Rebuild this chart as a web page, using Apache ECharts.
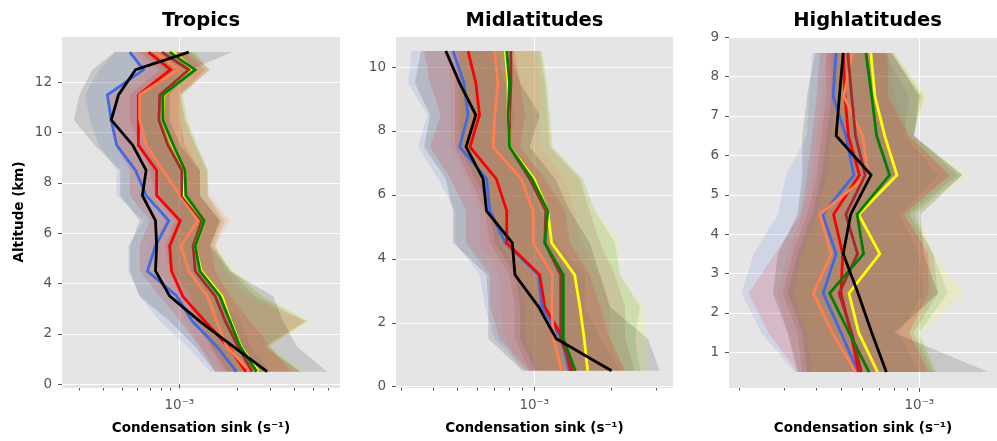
<!DOCTYPE html>
<html>
<head>
<meta charset="utf-8">
<script src="https://cdn.jsdelivr.net/npm/echarts@6/dist/echarts.min.js"></script>
<style>
  html, body { margin: 0; padding: 0; background: #ffffff; }
  #chart { width: 997px; height: 441px; }
</style>
</head>
<body>
<div id="chart"></div>
<script>
// Condensation sink profiles, values in units of 1e-4 s^-1
const UNIT = 1e-4;

// ---------- Tropics ----------
const tropAlt = [0.5, 1.5, 2.5, 3.5, 4.5, 5.5, 6.5, 7.5, 8.5, 9.5, 10.5, 11.5, 12.5, 13.2];
const tropBlue   = [19.9, 15.7, 11.7, 9.7, 6.8, 7.5, 8.8, 6.7, 5.9, 4.7, 4.4, 4.2, 6.5, 5.5];
const tropRed    = [22.3, 18.0, 13.6, 10.4, 9.1, 8.9, 10.1, 7.6, 7.6, 6.1, 6.1, 6.1, 9.0, 6.9];
const tropCoral  = [23.4, 17.7, 15.7, 14.0, 11.2, 10.2, 12.5, 10.1, 8.2, 6.7, 6.2, 6.2, 9.9, 7.5];
const tropBrown  = [24.0, 20.3, 17.4, 15.4, 12.1, 11.8, 13.1, 10.3, 10.3, 8.7, 7.8, 7.9, 11.2, 8.1];
const tropYellow = [25.9, 21.0, 18.6, 16.7, 13.0, 12.1, 13.5, 10.6, 10.7, 9.2, 8.2, 8.3, 11.9, 9.3];
const tropGreen  = [25.4, 20.8, 18.4, 16.3, 12.8, 12.1, 13.5, 10.8, 10.7, 9.3, 8.2, 8.2, 12.1, 8.9];
const tropBlack  = [28.8, 19.1, 12.8, 8.9, 7.5, 7.6, 7.5, 6.4, 6.7, 5.7, 4.4, 4.8, 5.9, 11.2];

const tropBlueLo   = [14.5, 11.0, 7.9, 6.2, 5.4, 5.4, 6.5, 4.7, 4.7, 3.8, 3.4, 3.2, 3.8, 4.6];
const tropBlueHi   = [29.9, 23.5, 20.8, 15.4, 12.1, 12.1, 13.6, 11.4, 10.1, 8.4, 7.5, 7.9, 10.1, 8.4];
const tropRedLo    = [15.4, 12.8, 10.1, 7.9, 6.2, 6.2, 7.0, 5.5, 5.5, 4.6, 4.3, 4.3, 6.2, 5.5];
const tropRedHi    = [38.0, 29.9, 23.5, 18.4, 15.4, 14.5, 16.3, 12.8, 12.8, 10.7, 10.1, 10.1, 13.6, 10.7];
const tropCoralLo  = [16.3, 12.8, 10.7, 9.5, 7.9, 7.0, 8.4, 7.0, 5.9, 4.9, 4.6, 4.6, 7.0, 5.9];
const tropCoralHi  = [42.8, 27.4, 45.5, 22.1, 17.4, 15.4, 18.4, 14.5, 13.6, 12.1, 10.7, 10.1, 14.5, 11.4];
const tropBrownLo  = [17.4, 14.5, 12.1, 10.7, 8.9, 8.4, 9.5, 7.5, 7.0, 6.2, 5.5, 5.5, 7.9, 6.2];
const tropBrownHi  = [42.8, 28.1, 45.5, 24.9, 18.4, 15.4, 17.4, 14.1, 14.1, 12.1, 10.7, 10.1, 14.5, 11.4];
const tropYellowLo = [18.4, 15.0, 12.8, 11.4, 9.3, 8.7, 9.8, 7.9, 7.7, 6.6, 6.1, 6.1, 8.4, 6.6];
const tropYellowHi = [45.5, 29.9, 48.3, 28.1, 19.6, 15.4, 17.4, 14.1, 14.1, 12.4, 11.0, 10.4, 14.1, 12.1];
const tropGreenLo  = [18.0, 14.8, 12.8, 11.4, 9.2, 8.7, 9.8, 7.9, 7.7, 6.6, 6.1, 6.1, 8.4, 6.6];
const tropGreenHi  = [42.8, 29.1, 47.2, 27.1, 18.9, 15.0, 16.7, 14.0, 14.0, 12.4, 11.0, 10.4, 14.1, 12.1];
const tropBlackLo  = [15.4, 12.1, 8.9, 6.2, 5.5, 5.5, 6.2, 4.9, 4.9, 3.6, 2.8, 3.0, 3.5, 4.6];
const tropBlackHi  = [59.3, 41.3, 34.9, 31.0, 18.4, 14.5, 16.3, 12.8, 12.8, 10.1, 8.9, 8.9, 11.4, 18.9];

// ---------- Midlatitudes ----------
const midAlt = [0.5, 1.5, 2.5, 3.5, 4.5, 5.5, 6.5, 7.5, 8.5, 9.5, 10.5];
const midBlue   = [13.7, 12.8, 10.7, 10.4, 7.7, 6.7, 6.5, 5.1, 5.5, 5.3, 4.8];
const midRed    = [13.9, 13.0, 11.0, 10.5, 7.8, 7.8, 7.1, 5.6, 6.1, 5.9, 5.5];
const midCoral  = [12.8, 11.9, 11.7, 11.8, 9.9, 9.9, 8.9, 6.9, 7.0, 7.2, 7.0];
const midBrown  = [14.2, 12.7, 12.7, 12.7, 11.0, 11.1, 9.6, 8.0, 8.0, 8.1, 8.1];
const midYellow = [16.2, 15.7, 15.1, 14.4, 11.7, 11.3, 10.0, 8.0, 7.9, 7.9, 7.7];
const midGreen  = [14.5, 13.0, 13.0, 13.0, 11.0, 11.3, 9.8, 8.0, 7.9, 8.0, 7.8];
const midBlack  = [20.1, 12.2, 10.4, 8.4, 8.2, 6.5, 6.3, 5.4, 5.9, 5.1, 4.5];

const midBlueLo   = [9.2, 7.0, 6.4, 6.1, 4.9, 4.9, 4.2, 3.5, 3.8, 3.2, 3.3];
const midBlueHi   = [21.7, 18.1, 15.8, 15.8, 12.1, 10.5, 9.6, 8.0, 8.4, 7.7, 7.0];
const midRedLo    = [9.5, 7.3, 6.7, 6.7, 5.4, 5.4, 4.7, 3.9, 4.3, 3.9, 3.7];
const midRedHi    = [22.7, 19.8, 18.1, 16.5, 13.8, 13.2, 11.0, 8.8, 9.2, 8.8, 8.4];
const midCoralLo  = [8.8, 7.7, 7.3, 7.3, 6.1, 6.1, 5.4, 4.7, 4.7, 4.7, 4.5];
const midCoralHi  = [22.7, 19.8, 19.8, 18.1, 15.1, 14.4, 13.2, 10.5, 10.5, 10.5, 10.1];
const midBrownLo  = [9.6, 8.4, 8.4, 8.0, 6.7, 6.4, 5.6, 4.9, 4.9, 4.9, 4.9];
const midBrownHi  = [24.8, 22.7, 22.7, 20.7, 18.1, 16.5, 15.1, 11.5, 11.3, 11.0, 10.5];
const midYellowLo = [10.5, 9.2, 9.2, 8.8, 7.3, 7.0, 6.1, 5.1, 5.1, 5.1, 5.1];
const midYellowHi = [27.7, 27.7, 26.7, 21.7, 21.7, 17.3, 15.5, 11.8, 11.5, 11.2, 10.7];
const midGreenLo  = [10.1, 8.8, 8.8, 8.4, 7.0, 6.7, 5.9, 5.1, 5.1, 5.1, 5.1];
const midGreenHi  = [26.0, 24.8, 26.0, 21.7, 20.7, 17.3, 15.5, 11.8, 11.5, 11.2, 10.7];
const midBlackLo  = [9.0, 6.6, 6.6, 6.5, 4.8, 4.8, 4.5, 3.7, 3.9, 3.4, 3.6];
const midBlackHi  = [31.1, 27.9, 19.8, 18.1, 16.5, 13.8, 12.1, 9.6, 10.5, 8.8, 8.0];

// ---------- Highlatitudes ----------
const highAlt = [0.5, 1.5, 2.5, 3.5, 4.5, 5.5, 6.5, 7.5, 8.6];
const highBlue   = [5.79, 4.97, 4.24, 4.76, 4.22, 5.58, 5.19, 4.63, 4.76];
const highRed    = [5.82, 5.42, 4.97, 5.05, 4.65, 5.86, 5.31, 5.15, 5.07];
const highCoral  = [5.66, 4.60, 3.89, 4.56, 4.11, 6.35, 6.02, 5.10, 5.50];
const highBrown  = [5.96, 5.47, 4.89, 5.76, 5.19, 6.17, 5.66, 5.47, 5.28];
const highYellow = [6.89, 5.82, 5.34, 7.03, 5.82, 8.19, 7.34, 6.73, 6.49];
const highGreen  = [6.39, 5.34, 4.49, 6.08, 5.74, 7.67, 6.83, 6.54, 6.21];
const highBlack  = [7.45, 6.54, 5.79, 5.07, 5.42, 6.50, 4.76, 4.90, 5.07];

const highBlueLo   = [3.28, 2.44, 2.05, 2.28, 2.83, 3.04, 3.67, 3.74, 3.84];
const highBlueHi   = [9.94, 8.36, 10.38, 9.94, 8.36, 11.82, 8.73, 9.12, 7.34];
const highRedLo    = [3.37, 2.60, 2.18, 2.76, 3.46, 3.67, 3.84, 4.01, 4.11];
const highRedHi    = [10.84, 9.12, 10.84, 10.84, 8.73, 13.11, 9.12, 7.54, 7.54];
const highCoralLo  = [3.43, 3.09, 2.83, 3.09, 3.52, 3.84, 4.01, 4.18, 4.37];
const highCoralHi  = [10.84, 9.12, 11.32, 10.84, 8.73, 13.11, 9.12, 8.00, 7.67];
const highBrownLo  = [3.52, 3.37, 2.96, 3.23, 3.67, 4.01, 4.18, 4.37, 4.37];
const highBrownHi  = [11.32, 9.52, 11.82, 11.32, 9.12, 14.05, 9.52, 9.94, 7.87];
const highYellowLo = [3.84, 3.67, 3.23, 3.52, 4.01, 4.37, 4.56, 4.76, 4.76];
const highYellowHi = [11.62, 10.11, 14.93, 11.32, 9.94, 15.32, 9.28, 10.84, 8.00];
const highGreenLo  = [3.67, 3.52, 3.09, 3.37, 3.84, 4.18, 4.37, 4.56, 4.56];
const highGreenHi  = [11.62, 9.94, 12.89, 11.32, 9.52, 14.67, 9.52, 10.38, 8.00];
const highBlackLo  = [3.37, 3.09, 2.71, 2.83, 3.37, 3.52, 3.52, 3.67, 3.94];
const highBlackHi  = [18.54, 8.00, 11.82, 10.38, 10.11, 14.67, 9.52, 10.11, 7.80];

// ---------- Axis ticks ----------
const tropYTicks = [0, 2, 4, 6, 8, 10, 12];
const midYTicks  = [0, 2, 4, 6, 8, 10];
const highYTicks = [1, 2, 3, 4, 5, 6, 7, 8, 9];
const xMajorTicks = [1e-3];
const tropXMinor = [3e-4, 4e-4, 5e-4, 6e-4, 7e-4, 8e-4, 9e-4, 2e-3, 3e-3, 4e-3, 5e-3, 6e-3];
const midXMinor  = [3e-4, 4e-4, 5e-4, 6e-4, 7e-4, 8e-4, 9e-4, 2e-3, 3e-3];
const highXMinor = [2e-4, 3e-4, 4e-4, 5e-4, 6e-4, 7e-4, 8e-4, 9e-4];

const titles = ['Tropics', 'Midlatitudes', 'Highlatitudes'];
const xAxisTitle = 'Condensation sink (s\u207B\u00B9)';
const yAxisTitle = 'Altitude (km)';
const xMajorLabel = '10\u207B\u00B3';

const COLORS = {
  blue: '#4169E1', red: '#FF0000', coral: '#FF7F50', brown: '#A52A2A',
  yellow: '#FFFF00', green: '#008000', black: '#000000'
};
const LINE_ORDER = ['blue', 'red', 'coral', 'brown', 'yellow', 'green', 'black'];
const BAND_ORDER = ['blue', 'green', 'yellow', 'brown', 'coral', 'red', 'black'];
const BAND_ALPHA = 0.13;

const panels = [
  {
    alt: tropAlt,
    line: { blue: tropBlue, red: tropRed, coral: tropCoral, brown: tropBrown, yellow: tropYellow, green: tropGreen, black: tropBlack },
    lo: { blue: tropBlueLo, red: tropRedLo, coral: tropCoralLo, brown: tropBrownLo, yellow: tropYellowLo, green: tropGreenLo, black: tropBlackLo },
    hi: { blue: tropBlueHi, red: tropRedHi, coral: tropCoralHi, brown: tropBrownHi, yellow: tropYellowHi, green: tropGreenHi, black: tropBlackHi },
    yTicks: tropYTicks, xMinor: tropXMinor,
    xMin: 2.43e-4, xMax: 6.93e-3, yMin: -0.15, yMax: 13.8,
    left: 62, width: 278
  },
  {
    alt: midAlt,
    line: { blue: midBlue, red: midRed, coral: midCoral, brown: midBrown, yellow: midYellow, green: midGreen, black: midBlack },
    lo: { blue: midBlueLo, red: midRedLo, coral: midCoralLo, brown: midBrownLo, yellow: midYellowLo, green: midGreenLo, black: midBlackLo },
    hi: { blue: midBlueHi, red: midRedHi, coral: midCoralHi, brown: midBrownHi, yellow: midYellowHi, green: midGreenHi, black: midBlackHi },
    yTicks: midYTicks, xMinor: midXMinor,
    xMin: 2.87e-4, xMax: 3.5e-3, yMin: -0.04, yMax: 10.94,
    left: 396, width: 277
  },
  {
    alt: highAlt,
    line: { blue: highBlue, red: highRed, coral: highCoral, brown: highBrown, yellow: highYellow, green: highGreen, black: highBlack },
    lo: { blue: highBlueLo, red: highRedLo, coral: highCoralLo, brown: highBrownLo, yellow: highYellowLo, green: highGreenLo, black: highBlackLo },
    hi: { blue: highBlueHi, red: highRedHi, coral: highCoralHi, brown: highBrownHi, yellow: highYellowHi, green: highGreenHi, black: highBlackHi },
    yTicks: highYTicks, xMinor: highXMinor,
    xMin: 1.83e-4, xMax: 2.0e-3, yMin: 0.095, yMax: 9.005,
    left: 729, width: 277
  }
];

const FONT = 'DejaVu Sans';
const TICK_COLOR = '#555555';
const GRID_TOP = 37;
const GRID_HEIGHT = 351;

const grids = [], xAxes = [], yAxes = [], series = [];

// Shaded range between lower and upper profiles, drawn as one polygon
function bandSeries(p, idx, key) {
  const rows = p.alt.map((a, i) => [p.lo[key][i] * UNIT, p.hi[key][i] * UNIT, a]);
  return {
    type: 'custom',
    xAxisIndex: idx * 2,
    yAxisIndex: idx,
    silent: true,
    clip: true,
    z: 1,
    data: rows,
    encode: { x: [0, 1], y: 2 },
    renderItem: function (params, api) {
      if (params.dataIndex !== 0) return null;
      const pts = [];
      for (let i = 0; i < rows.length; i++) pts.push(api.coord([rows[i][0], rows[i][2]]));
      for (let i = rows.length - 1; i >= 0; i--) pts.push(api.coord([rows[i][1], rows[i][2]]));
      return {
        type: 'polygon',
        shape: { points: pts },
        style: { fill: COLORS[key], opacity: BAND_ALPHA }
      };
    }
  };
}

panels.forEach((p, idx) => {
  grids.push({
    left: p.left, top: GRID_TOP, width: p.width, height: GRID_HEIGHT,
    show: true, backgroundColor: '#E5E5E5', borderWidth: 0, containLabel: false
  });

  // main x axis: 10^-3 tick, label, grid line and axis title
  xAxes.push({
    gridIndex: idx, type: 'log', logBase: 10, position: 'bottom',
    min: p.xMin, max: p.xMax,
    axisLine: { show: false },
    axisTick: { show: true, customValues: xMajorTicks, length: 4, lineStyle: { color: TICK_COLOR, width: 1 } },
    axisLabel: {
      show: true, customValues: xMajorTicks, formatter: () => xMajorLabel,
      color: TICK_COLOR, fontSize: 13.5, fontFamily: FONT, margin: 10
    },
    splitLine: { show: true, lineStyle: { color: '#ffffff', width: 1 } },
    minorTick: { show: false },
    name: xAxisTitle, nameLocation: 'middle', nameGap: 33,
    nameTextStyle: { fontFamily: FONT, fontWeight: 'bold', fontSize: 13.5, color: '#000000' }
  });
  // secondary x axis carrying the minor log ticks
  xAxes.push({
    gridIndex: idx, type: 'log', logBase: 10, position: 'bottom',
    min: p.xMin, max: p.xMax,
    axisLine: { show: false },
    axisTick: { show: true, customValues: p.xMinor, length: 2.5, lineStyle: { color: TICK_COLOR, width: 1 } },
    axisLabel: { show: false },
    splitLine: { show: false }
  });

  yAxes.push({
    gridIndex: idx, type: 'value', position: 'left',
    min: p.yMin, max: p.yMax,
    axisLine: { show: false },
    axisTick: { show: true, customValues: p.yTicks, length: 4, lineStyle: { color: TICK_COLOR, width: 1 } },
    axisLabel: { show: true, customValues: p.yTicks, color: TICK_COLOR, fontSize: 13.5, fontFamily: FONT, margin: 10 },
    splitLine: { show: true, lineStyle: { color: '#ffffff', width: 1 } }
  });

  BAND_ORDER.forEach(key => series.push(bandSeries(p, idx, key)));

  LINE_ORDER.forEach((key, k) => {
    series.push({
      type: 'line',
      xAxisIndex: idx * 2,
      yAxisIndex: idx,
      data: p.alt.map((a, i) => [p.line[key][i] * UNIT, a]),
      showSymbol: false,
      symbol: 'none',
      silent: true,
      clip: true,
      z: 3 + k,
      lineStyle: { color: COLORS[key], width: 2.8, join: 'miter' },
      animation: false
    });
  });
});

const graphics = panels.map((p, idx) => ({
  type: 'text',
  x: p.left + p.width / 2,
  y: 21,
  style: {
    text: titles[idx], fill: '#000000',
    font: 'bold 19.5px "DejaVu Sans"', align: 'center', verticalAlign: 'middle'
  }
}));
graphics.push({
  type: 'text',
  x: 19, y: 212,
  rotation: Math.PI / 2,
  style: {
    text: yAxisTitle, fill: '#000000',
    font: 'bold 13.5px "DejaVu Sans"', align: 'center', verticalAlign: 'middle'
  }
});

const chart = echarts.init(document.getElementById('chart'), null, { renderer: 'canvas' });
chart.setOption({
  animation: false,
  backgroundColor: '#ffffff',
  textStyle: { fontFamily: FONT },
  grid: grids,
  xAxis: xAxes,
  yAxis: yAxes,
  series: series,
  graphic: graphics
});
</script>
</body>
</html>
